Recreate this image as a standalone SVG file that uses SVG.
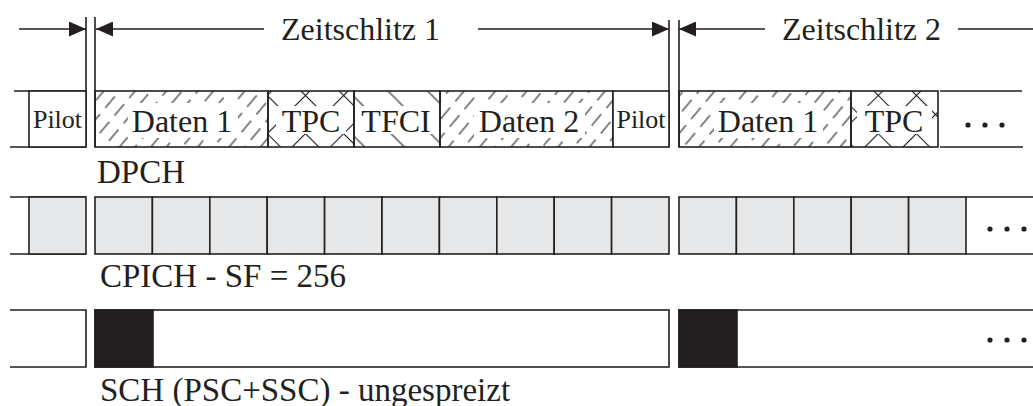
<svg xmlns="http://www.w3.org/2000/svg" width="1033" height="406" viewBox="0 0 1033 406">
<defs>
<style>
 .ln{stroke:#231f20;stroke-width:1.6;fill:none}
 .box{stroke:#231f20;stroke-width:1.6;fill:#fff}
 .gray{fill:#e6e7e8;stroke:#231f20;stroke-width:1.6}
 .blk{fill:#231f20;stroke:#231f20;stroke-width:1.6}
 .t{font-family:"Liberation Serif","Times New Roman",serif;fill:#231f20;font-size:32px}
 .lab{font-size:33px}
 .tm{text-anchor:middle}
 .sm{font-size:26px}
 .hl{stroke:#231f20;stroke-width:1.1}
 .hd{stroke:#231f20;stroke-width:1.1;stroke-dasharray:15 8}
 .mask{fill:#fff}
 .dot{fill:#231f20}
</style>
<pattern id="hData" patternUnits="userSpaceOnUse" width="12" height="23" patternTransform="rotate(40)"><line x1="6" y1="0" x2="6" y2="23" class="hd"/></pattern>
<pattern id="hTfci" patternUnits="userSpaceOnUse" width="28" height="28" patternTransform="rotate(-45)"><line x1="14" y1="0" x2="14" y2="28" class="hl"/></pattern>
<pattern id="hTpc" patternUnits="userSpaceOnUse" width="27" height="27" patternTransform="rotate(45)"><line x1="13.5" y1="0" x2="13.5" y2="27" class="hl"/><line x1="0" y1="13.5" x2="27" y2="13.5" class="hl"/></pattern>
<marker id="ah" markerUnits="userSpaceOnUse" markerWidth="17" markerHeight="15" refX="17" refY="7.5" orient="auto-start-reverse"><path d="M0,0 L17,7.5 L0,15 z" fill="#231f20"/></marker>
</defs>
<rect width="1033" height="406" fill="#fff"/>

<g id="connectors">
 <line class="ln" x1="86" y1="17" x2="86" y2="147"/>
 <line class="ln" x1="95" y1="17" x2="95" y2="147"/>
 <line class="ln" x1="669" y1="20" x2="669" y2="147"/>
 <line class="ln" x1="679" y1="20" x2="679" y2="147"/>
 <line class="ln" x1="19" y1="29" x2="86" y2="29" marker-end="url(#ah)"/>
 <line class="ln" x1="96" y1="29" x2="264" y2="29" marker-start="url(#ah)"/>
 <line class="ln" x1="478" y1="29" x2="669" y2="29" marker-end="url(#ah)"/>
 <line class="ln" x1="679" y1="29" x2="765" y2="29" marker-start="url(#ah)"/>
 <line class="ln" x1="958" y1="29" x2="1033" y2="29"/>
</g>

<g id="slot-labels">
 <text class="t" x="281" y="40" font-size="32.5">Zeitschlitz 1</text>
 <text class="t" x="782" y="40" font-size="32.5">Zeitschlitz 2</text>
</g>

<!-- DPCH row -->
<g id="dpch-prev">
 <line class="ln" x1="14" y1="91" x2="86" y2="91"/>
 <line class="ln" x1="10" y1="147" x2="86" y2="147"/>
 <rect class="box" x="29" y="91" width="57" height="56"/>
 <text class="t sm tm" x="57.5" y="128">Pilot</text>
</g>
<g id="dpch-daten1">
 <rect x="95" y="91" width="173" height="56" fill="url(#hData)"/>
 <rect class="mask" x="128" y="103" width="110" height="35"/>
 <rect class="ln" x="95" y="91" width="173" height="56"/>
 <text class="t tm" x="182" y="132">Daten 1</text>
</g>
<g id="dpch-tpc">
 <rect x="268" y="91" width="86" height="56" fill="url(#hTpc)"/>
 <rect class="mask" x="276" y="106" width="70" height="28"/>
 <rect class="ln" x="268" y="91" width="86" height="56"/>
 <text class="t tm" x="311" y="132">TPC</text>
</g>
<g id="dpch-tfci">
 <rect x="354" y="91" width="86" height="56" fill="url(#hTfci)"/>
 <rect class="mask" x="358" y="106" width="78" height="28"/>
 <rect class="ln" x="354" y="91" width="86" height="56"/>
 <text class="t tm" x="396" y="132">TFCI</text>
</g>
<g id="dpch-daten2">
 <rect x="440" y="91" width="173" height="56" fill="url(#hData)"/>
 <rect class="mask" x="474" y="103" width="111" height="35"/>
 <rect class="ln" x="440" y="91" width="173" height="56"/>
 <text class="t tm" x="529" y="132">Daten 2</text>
</g>
<g id="dpch-pilot">
 <rect class="box" x="613" y="91" width="56" height="56"/>
 <text class="t sm tm" x="641" y="128">Pilot</text>
</g>
<g id="dpch2-daten1">
 <rect x="679" y="91" width="172" height="56" fill="url(#hData)"/>
 <rect class="mask" x="714" y="103" width="109" height="35"/>
 <rect class="ln" x="679" y="91" width="172" height="56"/>
 <text class="t tm" x="768" y="132">Daten 1</text>
</g>
<g id="dpch2-tpc">
 <rect x="851" y="91" width="87" height="56" fill="url(#hTpc)"/>
 <rect class="mask" x="857" y="106" width="75" height="28"/>
 <rect class="ln" x="851" y="91" width="87" height="56"/>
 <text class="t tm" x="894" y="132">TPC</text>
</g>
<g id="dpch2-more">
 <line class="ln" x1="940" y1="91" x2="1022" y2="91"/>
 <line class="ln" x1="940" y1="147" x2="1023" y2="147"/>
 <circle class="dot" cx="968" cy="125" r="2.6"/>
 <circle class="dot" cx="985" cy="125" r="2.6"/>
 <circle class="dot" cx="1002" cy="125" r="2.6"/>
</g>
<g id="dpch-label"><text class="t lab" x="97" y="183">DPCH</text></g>

<!-- CPICH row -->
<g id="cpich-prev">
 <line class="ln" x1="10" y1="197" x2="86" y2="197"/>
 <line class="ln" x1="10" y1="254" x2="86" y2="254"/>
 <rect class="gray" x="29" y="197" width="57" height="57"/>
</g>
<g id="cpich-slot1">
 <rect class="gray" x="95" y="197" width="57.4" height="57"/>
 <rect class="gray" x="152.4" y="197" width="57.4" height="57"/>
 <rect class="gray" x="209.8" y="197" width="57.4" height="57"/>
 <rect class="gray" x="267.2" y="197" width="57.4" height="57"/>
 <rect class="gray" x="324.6" y="197" width="57.4" height="57"/>
 <rect class="gray" x="382" y="197" width="57.4" height="57"/>
 <rect class="gray" x="439.4" y="197" width="57.4" height="57"/>
 <rect class="gray" x="496.8" y="197" width="57.4" height="57"/>
 <rect class="gray" x="554.2" y="197" width="57.4" height="57"/>
 <rect class="gray" x="611.6" y="197" width="57.4" height="57"/>
</g>
<g id="cpich-slot2">
 <rect class="gray" x="679" y="197" width="57.4" height="57"/>
 <rect class="gray" x="736.4" y="197" width="57.4" height="57"/>
 <rect class="gray" x="793.8" y="197" width="57.4" height="57"/>
 <rect class="gray" x="851.2" y="197" width="57.4" height="57"/>
 <rect class="gray" x="908.6" y="197" width="57.4" height="57"/>
 <line class="ln" x1="966" y1="197" x2="1033" y2="197"/>
 <line class="ln" x1="966" y1="254" x2="1033" y2="254"/>
 <circle class="dot" cx="990" cy="229" r="2.6"/>
 <circle class="dot" cx="1007" cy="229" r="2.6"/>
 <circle class="dot" cx="1024" cy="229" r="2.6"/>
</g>
<g id="cpich-label"><text class="t lab" x="100" y="287">CPICH - SF = 256</text></g>

<!-- SCH row -->
<g id="sch-prev">
 <path class="ln" d="M10,310 H86 V367 H10"/>
</g>
<g id="sch-slot1">
 <rect class="box" x="95" y="310" width="574" height="57"/>
 <rect class="blk" x="95" y="310" width="58" height="57"/>
</g>
<g id="sch-slot2">
 <path class="ln" d="M1033,310 H679 V367 H1033"/>
 <rect class="blk" x="679" y="310" width="58" height="57"/>
 <circle class="dot" cx="990" cy="340" r="2.6"/>
 <circle class="dot" cx="1007" cy="340" r="2.6"/>
 <circle class="dot" cx="1024" cy="340" r="2.6"/>
</g>
<g id="sch-label"><text class="t lab" x="100" y="401">SCH (PSC+SSC) - ungespreizt</text></g>
</svg>
